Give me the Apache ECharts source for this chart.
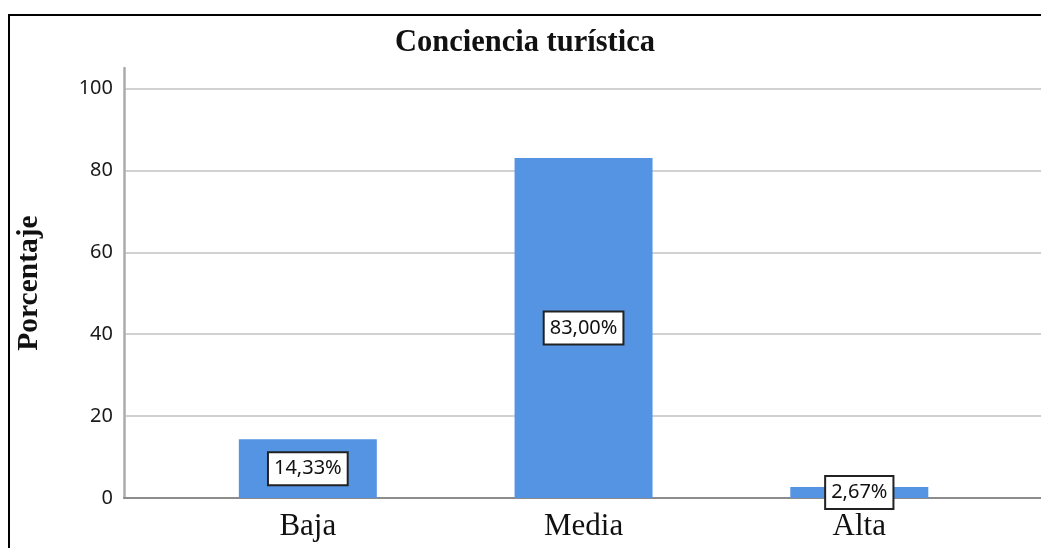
<!DOCTYPE html>
<html>
<head>
<meta charset="utf-8">
<script src="https://cdn.jsdelivr.net/npm/echarts@6/dist/echarts.min.js"></script>
<style>
  html, body { margin: 0; padding: 0; background: #fff; }
  #wrap { position: relative; width: 1041px; height: 548px; }
  #chart { width: 1041px; height: 548px; }
  #frame { position: absolute; left: 8px; top: 14px; right: -10px; bottom: -10px;
           border-left: 2px solid #000; border-top: 2px solid #000; pointer-events: none; }
</style>
</head>
<body>
<div id="wrap">
  <div id="chart"></div>
  <div id="frame"></div>
</div>
<script>
const titleText = 'Conciencia turística';
const yAxisName = 'Porcentaje';
const categories = ['Baja', 'Media', 'Alta'];
const values = [14.33, 83.00, 2.67];
const valueLabels = ['14,33%', '83,00%', '2,67%'];
const categoryPositions = [0, 1, 2];

const chart = echarts.init(document.getElementById('chart'), null, { renderer: 'canvas' });
chart.setOption({
  animation: false,
  backgroundColor: '#ffffff',
  title: {
    text: titleText,
    left: 525,
    top: 28,
    textAlign: 'center',
    padding: 0,
    textStyle: { fontFamily: 'Liberation Serif', fontWeight: 'bold', fontSize: 30.5, color: '#111' }
  },
  grid: { left: 124, right: 0, top: 68, bottom: 50, containLabel: false },
  xAxis: {
    type: 'value',
    min: -0.6667,
    max: 2.659,
    splitLine: { show: false },
    axisTick: { show: false },
    axisLine: { show: true, onZero: false, lineStyle: { color: '#8c8c8c', width: 2 } },
    axisLabel: {
      customValues: categoryPositions,
      formatter: v => categories[Math.round(v)],
      fontFamily: 'Liberation Serif',
      fontSize: 31,
      color: '#111',
      margin: 13
    }
  },
  yAxis: {
    type: 'value',
    min: 0,
    max: 105,
    interval: 20,
    name: yAxisName,
    nameLocation: 'middle',
    nameGap: 80,
    nameRotate: 90,
    nameTextStyle: { fontFamily: 'Liberation Serif', fontWeight: 'bold', fontSize: 29.5, color: '#111' },
    axisLine: { show: true, onZero: false, lineStyle: { color: '#ababab', width: 2.5 } },
    axisTick: { show: false },
    axisLabel: { showMaxLabel: false, fontFamily: 'Noto Sans', fontSize: 20, color: '#1a1a1a', margin: 11 },
    splitLine: { show: true, showMaxLine: false, showMinLine: false, lineStyle: { color: '#c2c2c2', width: 1.5 } }
  },
  series: [{
    type: 'bar',
    data: categoryPositions.map((p, i) => [p, values[i]]),
    barWidth: 138,
    itemStyle: { color: '#5594e2' },
    label: {
      show: true,
      position: 'inside',
      formatter: p => valueLabels[p.dataIndex],
      fontFamily: 'Noto Sans',
      fontSize: 20,
      color: '#111',
      backgroundColor: '#ffffff',
      borderColor: '#222',
      borderWidth: 2,
      padding: [6, 5, 5, 5]
    }
  }]
});
</script>
</body>
</html>
